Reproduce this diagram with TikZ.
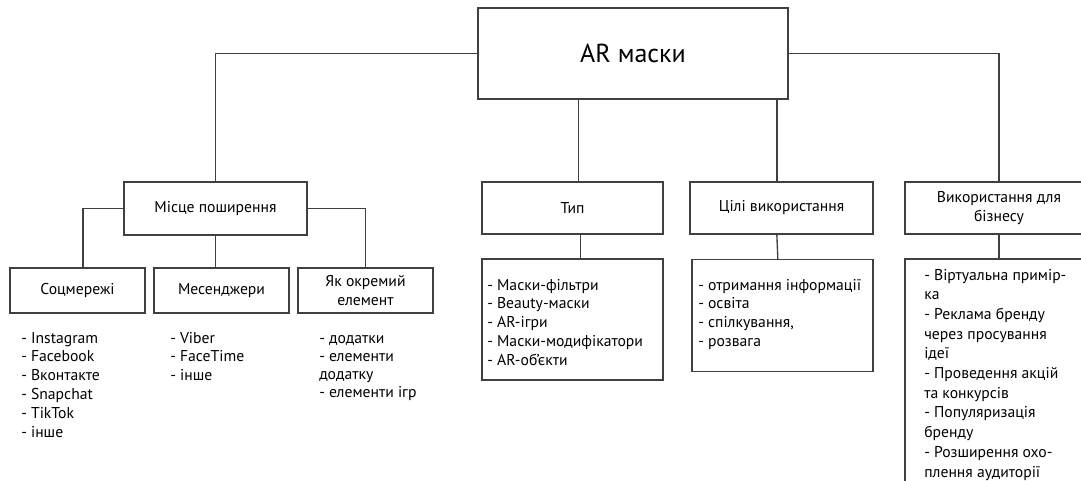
\documentclass[tikz,border=0pt]{standalone}
\usepackage{fontspec}
\setmainfont{PT Sans}
\begin{document}
\begin{tikzpicture}[x=0.75pt, y=-0.75pt,
  box/.style={draw=black!75, line width=1pt, fill=white, inner sep=0pt, align=center,
    font=\fontsize{11.75}{14.5}\selectfont},
  boxsize/.style 2 args={minimum width=#1*0.75pt, minimum height=#2*0.75pt},
  lst/.style={anchor=base west, inner sep=0pt, font=\fontsize{11.75}{14}\selectfont},
  link/.style={draw=black!75, line width=1pt}]
\useasboundingbox (0,0) rectangle (1081,481);
\clip (0,0) rectangle (1081,481);
% top
\node[box, boxsize={310}{91}, font=\fontsize{19.5}{23}\selectfont] (ar) at (633,53.5) {AR маски};
% second row
\node[box, boxsize={183}{53}] (place) at (215.5,208.5) {Місце поширення};
\node[box, boxsize={181}{52}] (type) at (572.5,208) {Тип};
\node[box, boxsize={183}{52}] (goals) at (781.5,208) {Цілі використання};
\node[box, boxsize={188}{52}] (biz) at (999,208) {Використання для\\бізнесу};
% third row
\node[box, boxsize={135}{45}] (soc) at (77.5,290.5) {Соцмережі};
\node[box, boxsize={135}{45}] (mess) at (221.5,290.5) {Месенджери};
\node[box, boxsize={135}{45}] (elem) at (365.5,290.5) {Як окремий\\елемент};
\node[box, boxsize={181}{121}] (typelist) at (572.5,319.5) {};
\node[box, boxsize={181}{112}] (goalslist) at (782.5,315.5) {};
\node[box, boxsize={188}{242}] (bizlist) at (999,380) {};
% connectors
\draw[link] (ar.west) -| (place.north);
\draw[link] (ar.east) -| (biz.north);
\draw[link] ([xshift=4.5pt]type.north) -- ([xshift=4.5pt]type.north |- ar.south);
\draw[link] ([xshift=-3.5pt]goals.north) -- ([xshift=-3.5pt]goals.north |- ar.south);
\draw[link] (place.west) -| ([xshift=4pt]soc.north);
\draw[link] (place.south) -- (place.south |- mess.north);
\draw[link] (place.east) -| (elem.north);
\draw[link] ([xshift=6pt]type.south) -- ([xshift=6pt]typelist.north);
\draw[link] ([xshift=-3.5pt]goals.south) -- ([xshift=-3.5pt]goalslist.north);
\draw[link] (biz.south) -- (bizlist.north);
% lists
\foreach \t [count=\i from 0] in {- Instagram, - Facebook, - Вконтакте, - Snapchat, - TikTok, - інше}
  \node[lst] (soc-\i) at (21,343+18.8*\i) {\t};
\foreach \t [count=\i from 0] in {- Viber, - FaceTime, - інше}
  \node[lst] (mess-\i) at (170,343+18.8*\i) {\t};
\foreach \t [count=\i from 0] in {- додатки, - елементи, додатку, - елементи ігр}
  \node[lst] (elem-\i) at (319,343+18.2*\i) {\t};
\foreach \t [count=\i from 0] in {- Маски-фільтри, - Beauty-маски, - AR-ігри, - Маски-модифікатори, - AR-об'єкти}
  \node[lst] (type-\i) at (487,290+18.9*\i) {\t};
\foreach \t [count=\i from 0] in {- отримання інформації, - освіта, {- спілкування,}, - розвага}
  \node[lst] (goals-\i) at (698,290+18.9*\i) {\t};
\foreach \t [count=\i from 0] in {- Віртуальна примір-, ка, - Реклама бренду, через просування, ідеї,
    - Проведення акцій, та конкурсів, - Популяризація, бренду, - Розширення охо-, плення аудиторії}
  \node[lst] (biz-\i) at (924,280+19.7*\i) {\t};
\end{tikzpicture}
\end{document}
